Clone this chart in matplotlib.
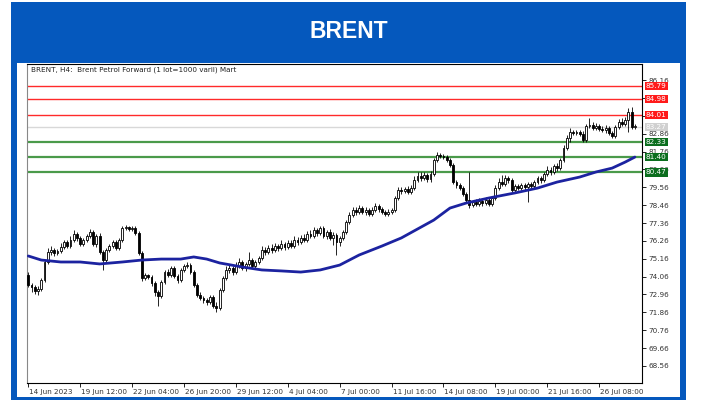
import numpy as np
import matplotlib
matplotlib.use('Agg')
import matplotlib.pyplot as plt
from matplotlib.patches import Rectangle
import matplotlib.transforms as mtransforms

# H4 candles, 14 Jun 2023 20:00 -> 28 Jul 2023
opens = [74.16, 73.54, 73.42, 73.17, 73.30, 73.85, 74.96, 75.57, 75.70, 75.51,
         75.64, 75.88, 76.19, 75.94, 76.31, 76.68, 76.44, 76.07, 76.31, 76.56,
         76.81, 76.07, 76.56, 75.57, 75.08, 75.70, 75.94, 76.19, 75.82, 76.31,
         77.05, 77.11, 76.99, 77.05, 76.74, 75.51, 73.98, 74.16, 74.04, 73.67,
         73.11, 72.87, 73.73, 74.34, 74.16, 74.59, 74.10, 73.85, 74.47, 74.71,
         74.77, 74.34, 73.54, 72.93, 72.75, 72.62, 72.50, 72.81, 72.25, 72.13,
         73.24, 73.98, 74.47, 74.59, 74.34, 74.71, 74.96, 74.59, 74.84, 75.08,
         74.71, 74.96, 75.21, 75.70, 75.57, 75.82, 75.70, 75.94, 75.82, 76.07,
         75.88, 76.13, 75.94, 76.31, 76.19, 76.44, 76.31, 76.68, 76.56, 76.93,
         76.74, 77.05, 76.56, 76.81, 76.44, 76.62, 76.19, 76.44, 76.81, 77.42,
         77.85, 78.16, 78.04, 78.28, 78.04, 78.16, 77.91, 78.16, 78.41, 78.22,
         78.04, 77.91, 78.04, 78.16, 78.90, 79.39, 79.33, 79.45, 79.27, 79.51,
         80.01, 80.25, 80.13, 80.31, 80.07, 80.37, 81.24, 81.54, 81.48, 81.42,
         81.24, 80.93, 79.88, 79.70, 79.51, 79.14, 78.78, 78.47, 78.65, 78.53,
         78.71, 78.59, 78.78, 78.53, 78.90, 79.51, 79.88, 79.76, 80.13, 80.01,
         79.39, 79.64, 79.51, 79.70, 79.58, 79.76, 79.64, 79.88, 80.13, 80.01,
         80.37, 80.62, 80.50, 80.87, 80.74, 81.24, 81.97, 82.59, 82.96, 82.90,
         82.96, 82.84, 82.47, 83.33, 83.39, 83.21, 83.33, 83.15, 83.08, 83.21,
         82.90, 82.71, 83.27, 83.58, 83.45, 83.70, 84.19, 83.27]
closes = [73.54, 73.42, 73.17, 73.30, 73.85, 74.96, 75.57, 75.70, 75.51, 75.64,
          75.88, 76.19, 75.94, 76.31, 76.68, 76.44, 76.07, 76.31, 76.56, 76.81,
          76.07, 76.56, 75.57, 75.08, 75.70, 75.94, 76.19, 75.82, 76.31, 77.05,
          77.11, 76.99, 77.05, 76.74, 75.51, 73.98, 74.16, 74.04, 73.67, 73.11,
          72.87, 73.73, 74.34, 74.16, 74.59, 74.10, 73.85, 74.47, 74.71, 74.77,
          74.34, 73.54, 72.93, 72.75, 72.62, 72.50, 72.81, 72.25, 72.13, 73.24,
          73.98, 74.47, 74.59, 74.34, 74.71, 74.96, 74.59, 74.84, 75.08, 74.71,
          74.96, 75.21, 75.70, 75.57, 75.82, 75.70, 75.94, 75.82, 76.07, 75.88,
          76.13, 75.94, 76.31, 76.19, 76.44, 76.31, 76.68, 76.56, 76.93, 76.74,
          77.05, 76.56, 76.81, 76.44, 76.62, 76.19, 76.44, 76.81, 77.42, 77.85,
          78.16, 78.04, 78.28, 78.04, 78.16, 77.91, 78.16, 78.41, 78.22, 78.04,
          77.91, 78.04, 78.16, 78.90, 79.39, 79.33, 79.45, 79.27, 79.51, 80.01,
          80.25, 80.13, 80.31, 80.07, 80.37, 81.24, 81.54, 81.48, 81.42, 81.24,
          80.93, 79.88, 79.70, 79.51, 79.14, 78.78, 78.47, 78.65, 78.53, 78.71,
          78.59, 78.78, 78.53, 78.90, 79.51, 79.88, 79.76, 80.13, 80.01, 79.39,
          79.64, 79.51, 79.70, 79.58, 79.76, 79.64, 79.88, 80.13, 80.01, 80.37,
          80.62, 80.50, 80.87, 80.74, 81.24, 81.97, 82.59, 82.96, 82.90, 82.96,
          82.84, 82.47, 83.33, 83.39, 83.21, 83.33, 83.15, 83.08, 83.21, 82.90,
          82.71, 83.27, 83.58, 83.45, 83.70, 84.19, 83.27, 83.33]
highs = [74.34, 73.67, 73.54, 73.48, 73.98, 75.08, 75.82, 75.94, 75.82, 75.76,
         76.13, 76.31, 76.31, 76.56, 76.93, 76.81, 76.56, 76.44, 76.68, 76.99,
         76.93, 76.68, 76.74, 75.70, 75.82, 76.07, 76.31, 76.31, 76.44, 77.17,
         77.24, 77.17, 77.17, 77.17, 76.87, 75.64, 74.28, 74.22, 74.16, 73.79,
         73.24, 73.85, 74.47, 74.53, 74.71, 74.71, 74.22, 74.59, 74.84, 74.96,
         74.90, 74.47, 73.67, 73.11, 72.87, 72.75, 72.93, 72.93, 72.50, 73.36,
         74.10, 74.71, 74.77, 74.71, 74.96, 75.21, 75.08, 74.96, 75.57, 75.21,
         75.08, 75.33, 75.94, 75.88, 76.01, 76.07, 76.13, 76.07, 76.31, 76.19,
         76.31, 76.31, 76.56, 76.50, 76.62, 76.68, 76.87, 76.93, 77.11, 77.05,
         77.17, 77.17, 76.93, 76.99, 76.81, 76.74, 76.56, 76.93, 77.54, 78.04,
         78.34, 78.34, 78.47, 78.41, 78.34, 78.28, 78.34, 78.59, 78.53, 78.34,
         78.16, 78.22, 78.28, 79.02, 79.58, 79.58, 79.58, 79.64, 79.70, 80.25,
         80.50, 80.50, 80.50, 80.44, 80.56, 81.36, 81.73, 81.67, 81.61, 81.54,
         81.36, 81.05, 80.01, 79.82, 79.64, 79.27, 80.50, 78.78, 78.84, 78.90,
         78.84, 78.96, 78.90, 79.02, 79.70, 80.13, 80.31, 80.31, 80.25, 80.13,
         79.76, 79.76, 79.82, 79.82, 79.88, 79.88, 80.01, 80.25, 80.25, 80.50,
         80.87, 80.81, 80.99, 81.05, 81.36, 82.16, 82.78, 83.21, 83.08, 83.08,
         83.08, 83.02, 83.45, 83.82, 83.58, 83.51, 83.45, 83.33, 83.39, 83.33,
         83.02, 83.39, 83.76, 83.82, 83.88, 84.44, 84.50, 83.45]
lows = [73.42, 73.11, 72.99, 72.93, 73.17, 73.73, 74.84, 75.39, 75.33, 75.39,
        75.51, 75.76, 75.82, 75.82, 76.19, 76.25, 75.94, 75.94, 76.19, 76.44,
        75.94, 75.88, 75.45, 74.47, 74.96, 75.57, 75.82, 75.70, 75.70, 76.19,
        76.93, 76.87, 76.87, 76.62, 75.39, 73.79, 73.85, 73.91, 73.48, 72.87,
        72.25, 72.75, 73.61, 74.04, 74.04, 73.98, 73.67, 73.73, 74.34, 74.59,
        74.22, 73.42, 72.81, 72.62, 72.44, 72.31, 72.38, 72.13, 71.88, 72.01,
        73.11, 73.85, 74.28, 74.16, 74.22, 74.59, 74.47, 74.41, 74.71, 74.59,
        74.53, 74.84, 75.08, 75.39, 75.45, 75.51, 75.57, 75.64, 75.70, 75.70,
        75.76, 75.82, 75.82, 76.01, 76.07, 76.19, 76.19, 76.44, 76.44, 76.56,
        76.62, 76.44, 76.38, 76.31, 76.01, 75.39, 75.94, 76.31, 76.68, 77.30,
        77.73, 77.85, 77.91, 77.91, 77.85, 77.79, 77.79, 78.04, 78.04, 77.91,
        77.79, 77.79, 77.91, 78.04, 78.78, 79.14, 79.21, 79.14, 79.14, 79.39,
        79.88, 79.94, 80.01, 79.88, 79.88, 80.25, 81.11, 81.36, 81.30, 81.11,
        80.81, 79.76, 79.51, 79.39, 79.02, 78.59, 78.28, 78.34, 78.41, 78.41,
        78.41, 78.47, 78.41, 78.41, 78.78, 79.39, 79.64, 79.64, 79.82, 79.27,
        79.27, 79.39, 79.39, 79.39, 78.65, 79.45, 79.51, 79.76, 79.82, 79.88,
        80.25, 80.31, 80.37, 80.56, 80.62, 81.11, 81.85, 82.34, 82.78, 82.78,
        82.71, 82.34, 82.34, 83.21, 83.08, 83.08, 83.02, 82.96, 82.90, 82.78,
        82.59, 82.59, 83.15, 83.33, 83.33, 82.96, 83.15, 83.15]

# moving average read at selected bars
ma_idx = [0, 4, 10, 16, 22, 29, 35, 41, 47, 51, 55, 59, 66, 72, 78, 84, 90, 96,
          102, 109, 115, 120, 125, 130, 135, 142, 150, 157, 163, 170, 175, 180,
          184, 187]
ma_val = [75.33, 75.08, 74.96, 74.96, 74.84, 74.96, 75.08, 75.14, 75.14, 75.27,
          75.14, 74.90, 74.65, 74.47, 74.41, 74.34, 74.47, 74.77, 75.39, 75.94,
          76.44, 76.99, 77.54, 78.28, 78.59, 78.90, 79.21, 79.51, 79.88, 80.19,
          80.50, 80.74, 81.11, 81.42]

red_levels = [85.79, 84.98, 84.01]
green_levels = [82.33, 81.40, 80.47]
last_price = 83.27

price_ticks = [68.56, 69.66, 70.76, 71.86, 72.96, 74.06, 75.16, 76.26, 77.36,
               78.46, 79.56, 80.66, 81.76, 82.86, 83.96, 85.06, 86.16]
hidden_ticks = [83.96, 85.06]   # covered by the level labels
time_idx = [0, 16, 32, 48, 64, 80, 96, 112, 128, 144, 160, 176]
time_labels = ['14 Jun 2023', '19 Jun 12:00', '22 Jun 04:00', '26 Jun 20:00',
               '29 Jun 12:00', '4 Jul 04:00', '7 Jul 00:00', '11 Jul 16:00',
               '14 Jul 08:00', '19 Jul 00:00', '21 Jul 16:00', '26 Jul 08:00']

W, H = 702, 400
fig = plt.figure(figsize=(W / 100, H / 100), dpi=100)
fig.patch.set_facecolor('white')

blue = '#0558bd'
fig.patches.append(Rectangle((11 / W, 0), 675 / W, 398 / H, transform=fig.transFigure,
                             facecolor=blue, edgecolor='none', zorder=-3))
fig.patches.append(Rectangle((17 / W, 3 / H), 663 / W, 334 / H, transform=fig.transFigure,
                             facecolor='white', edgecolor='none', zorder=-2))
fig.text(349 / W, 1 - 32 / H, 'BRENT', color='white', fontsize=16.5, fontweight='bold',
         family='Liberation Sans', ha='center', va='center')

ax = fig.add_axes([27 / W, 1 - 383 / H, 615 / W, 319.5 / H])
ax.set_zorder(2)
ax.set_facecolor('white')

idx = np.arange(len(opens))
o = np.array(opens)
c = np.array(closes)
ax.vlines(idx, lows, highs, color='black', lw=0.6, zorder=3)
up = c >= o
ax.bar(idx[up], (c - o)[up], bottom=o[up], width=0.58, color='white',
       edgecolor='black', lw=0.6, zorder=4)
ax.bar(idx[~up], (o - c)[~up], bottom=c[~up], width=0.58, color='black',
       edgecolor='black', lw=0.6, zorder=4)

ax.plot(ma_idx, ma_val, color='#1c23a0', lw=2.0, zorder=5, solid_capstyle='round')

for lv in red_levels:
    ax.axhline(lv, color='#ff2a2a', lw=1.0, zorder=2)
for lv in green_levels:
    ax.axhline(lv, color='#4a9a4a', lw=1.6, zorder=2)
ax.axhline(last_price, color='#d8d8d8', lw=1.0, zorder=1)

ax.set_xlim(-0.4, 189.2)
ax.set_ylim(67.51, 87.18)

ax.yaxis.tick_right()
ax.set_yticks(price_ticks)
ax.set_yticklabels(['' if p in hidden_ticks else '%.2f' % p for p in price_ticks])
ax.tick_params(axis='y', direction='out', length=3, width=0.6, pad=1.5,
               labelsize=5.2, labelcolor='#333333')
ax.set_xticks(time_idx)
ax.set_xticklabels(time_labels, ha='left')
ax.tick_params(axis='x', direction='out', length=3, width=0.6, pad=1,
               labelsize=5.2, labelcolor='#333333')
for lab in ax.get_xticklabels():
    lab.set_transform(lab.get_transform() + mtransforms.ScaledTranslation(1.0 / 100, 0, fig.dpi_scale_trans))

for s in ax.spines.values():
    s.set_linewidth(0.8)
    s.set_color('black')
ax.spines['left'].set_color('#888888')

trans = mtransforms.blended_transform_factory(ax.transAxes, ax.transData)
for lv in red_levels:
    ax.text(1.006, lv, '%.2f' % lv, transform=trans, fontsize=5.2, color='white',
            va='center', ha='left', zorder=10, clip_on=False,
            bbox=dict(boxstyle='square,pad=0.15', fc='#ff1a1a', ec='none'))
for lv in green_levels:
    ax.text(1.006, lv, '%.2f' % lv, transform=trans, fontsize=5.2, color='white',
            va='center', ha='left', zorder=10, clip_on=False,
            bbox=dict(boxstyle='square,pad=0.15', fc='#0b6e1e', ec='none'))
ax.text(1.006, last_price, '%.2f' % last_price, transform=trans, fontsize=5.2,
        color='white', va='center', ha='left', zorder=10, clip_on=False,
        bbox=dict(boxstyle='square,pad=0.15', fc='#d0d0d0', ec='none'))

ax.text(0.006, 0.992, 'BRENT, H4:  Brent Petrol Forward (1 lot=1000 varil) Mart',
        transform=ax.transAxes, fontsize=5.2, color='#222222', va='top', ha='left')

fig.savefig('out.png', dpi=100)
